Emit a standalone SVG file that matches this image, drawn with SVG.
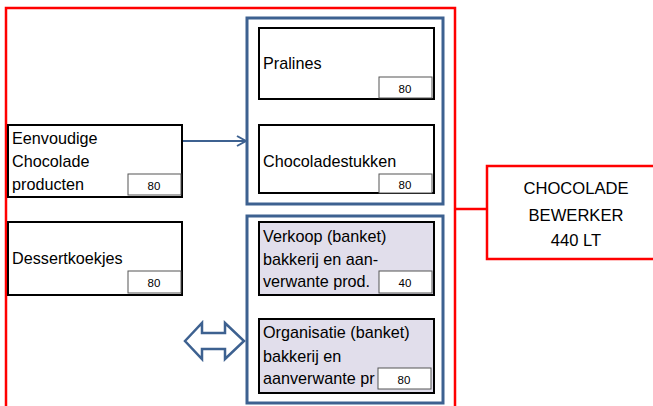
<svg xmlns="http://www.w3.org/2000/svg" width="653" height="406" viewBox="0 0 653 406">
<defs>
<style>
.t{font-family:"Liberation Sans",Arial,sans-serif;font-size:16.2px;fill:#000}
.n{font-family:"Liberation Sans",Arial,sans-serif;font-size:11.5px;fill:#000;text-anchor:middle}
.box{fill:#fff;stroke:#000;stroke-width:2}
.pbox{fill:#E1DEEB;stroke:#000;stroke-width:2}
.num{fill:#fff;stroke:#555;stroke-width:1}
.grp{fill:none;stroke:#3D6190;stroke-width:3}
.red{fill:none;stroke:#FF0000;stroke-width:2.5}
.big{font-family:"Liberation Sans",Arial,sans-serif;font-size:16.6px;fill:#000;text-anchor:middle}
</style>
<marker id="chev" markerWidth="12" markerHeight="12" refX="10" refY="6" orient="auto" markerUnits="userSpaceOnUse">
<path d="M1,1 L10,6 L1,11" fill="none" stroke="#3D6190" stroke-width="2"/>
</marker>
</defs>
<rect width="653" height="406" fill="#fff"/>
<g id="frame">
<path class="red" d="M6,410 L6,8 L455,8 L455,410"/>
</g>
<g id="groups">
<rect id="group-top" class="grp" x="247" y="18" width="196" height="186"/>
<rect id="group-bottom" class="grp" x="247" y="216" width="196" height="187"/>
</g>
<g id="connectors">
<line x1="182" y1="141" x2="246" y2="141" stroke="#3D6190" stroke-width="2" marker-end="url(#chev)"/>
<line x1="455" y1="209" x2="487" y2="209" stroke="#FF0000" stroke-width="2.5"/>
<path d="M185,341 L202,323 L202,333 L225,333 L225,323 L244,341 L225,359 L225,349 L202,349 L202,359 Z" fill="#fff" stroke="#3D6190" stroke-width="2.5" stroke-linejoin="miter"/>
</g>
<g id="eenvoudige">
<rect class="box" x="8" y="125" width="174" height="72"/>
<text class="t" x="12" y="144">Eenvoudige</text>
<text class="t" x="12" y="167">Chocolade</text>
<text class="t" x="12" y="190">producten</text>
<rect class="num" x="128" y="174" width="53" height="21"/>
<text class="n" x="154" y="190">80</text>
</g>
<g id="dessertkoekjes">
<rect class="box" x="8" y="222" width="174" height="73"/>
<text class="t" x="12" y="264">Dessertkoekjes</text>
<rect class="num" x="128" y="271" width="53" height="22"/>
<text class="n" x="154" y="287">80</text>
</g>
<g id="pralines">
<rect class="box" x="259" y="28" width="175" height="71"/>
<text class="t" x="263" y="69">Pralines</text>
<rect class="num" x="379" y="77" width="53" height="21"/>
<text class="n" x="405" y="93">80</text>
</g>
<g id="chocoladestukken">
<rect class="box" x="259" y="125" width="175" height="68"/>
<text class="t" x="263" y="167">Chocoladestukken</text>
<rect class="num" x="379" y="174" width="53" height="19"/>
<text class="n" x="405" y="189">80</text>
</g>
<g id="verkoop">
<rect class="pbox" x="259" y="222" width="175" height="73"/>
<text class="t" x="263" y="242">Verkoop (banket)</text>
<text class="t" x="263" y="265">bakkerij en aan-</text>
<text class="t" x="263" y="287">verwante prod.</text>
<rect class="num" x="379" y="271" width="53" height="22"/>
<text class="n" x="405" y="287">40</text>
</g>
<g id="organisatie">
<rect class="pbox" x="259" y="319" width="175" height="74"/>
<text class="t" x="263" y="338">Organisatie (banket)</text>
<text class="t" x="263" y="362">bakkerij en</text>
<text class="t" x="263" y="384">aanverwante pr</text>
<rect class="num" x="378" y="368" width="53" height="21"/>
<text class="n" x="404" y="384">80</text>
</g>
<g id="chocolade-bewerker">
<rect class="red" x="487" y="166" width="170" height="93"/>
<text class="big" x="576" y="194">CHOCOLADE</text>
<text class="big" x="576" y="221">BEWERKER</text>
<text class="big" x="576" y="246">440 LT</text>
</g>
</svg>
